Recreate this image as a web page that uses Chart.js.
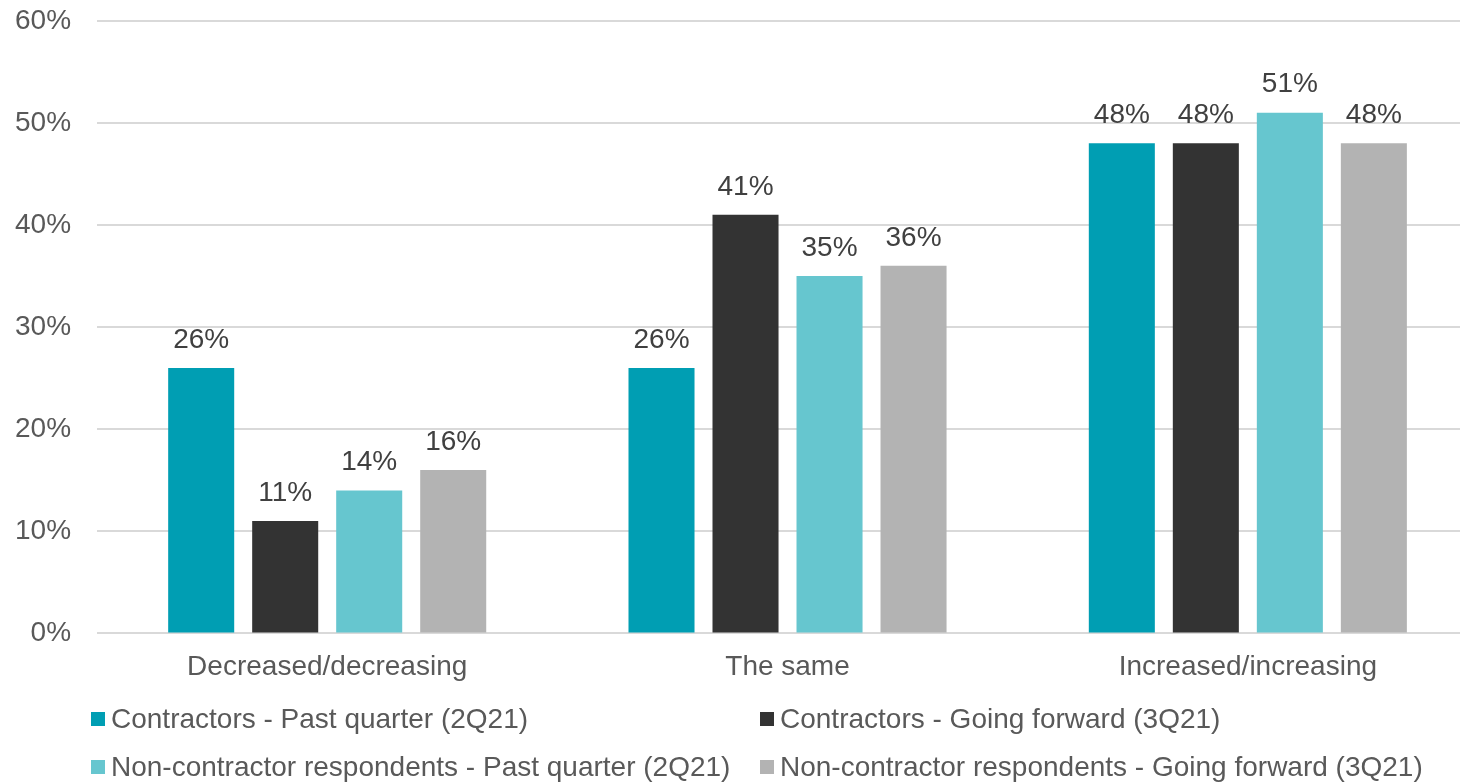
<!DOCTYPE html>
<html>
<head>
<meta charset="utf-8">
<script src="https://cdn.jsdelivr.net/npm/chart.js@4"></script>
<style>
    body { margin: 0; background: #fff; font-family: "Liberation Sans", Arial, sans-serif; overflow: hidden; }
    #wrap { position: absolute; left: 0; top: -22px; width: 1478px; height: 723px; }
    #legend { position: absolute; left: 91px; top: 700px; display: grid; grid-template-columns: 669px 700px; row-gap: 10px; }
    .item { display: flex; align-items: center; font-size: 28px; color: #595959; height: 38px; white-space: nowrap; }
    .box { width: 14px; height: 14px; margin-right: 6px; flex-shrink: 0; }
</style>
</head>
<body>
<div id="wrap"><canvas id="chart"></canvas></div>
<div id="legend"></div>
<script>
const categories = ['Decreased/decreasing', 'The same', 'Increased/increasing'];
const seriesNames = [
    'Contractors - Past quarter (2Q21)',
    'Contractors - Going forward (3Q21)',
    'Non-contractor respondents - Past quarter (2Q21)',
    'Non-contractor respondents - Going forward (3Q21)'
];
const contractorsPast = [26, 26, 48];
const contractorsForward = [11, 41, 48];
const nonContractorsPast = [14, 35, 51];
const nonContractorsForward = [16, 36, 48];
const yTicks = [0, 10, 20, 30, 40, 50, 60];
const colors = ['#009EB3', '#333333', '#66C6CF', '#B3B3B3'];

const allSeries = [contractorsPast, contractorsForward, nonContractorsPast, nonContractorsForward];
const fontFamily = '"Liberation Sans", Arial, sans-serif';

const valueLabels = {
    id: 'valueLabels',
    afterDatasetsDraw(chart) {
        const ctx = chart.ctx;
        ctx.save();
        ctx.font = '28px ' + fontFamily;
        ctx.fillStyle = '#404040';
        ctx.textAlign = 'center';
        ctx.textBaseline = 'middle';
        chart.data.datasets.forEach((ds, i) => {
            chart.getDatasetMeta(i).data.forEach((bar, j) => {
                ctx.fillText(ds.data[j] + '%', bar.x, bar.y - 28);
            });
        });
        ctx.restore();
    }
};

new Chart(document.getElementById('chart'), {
    type: 'bar',
    data: {
        labels: categories,
        datasets: allSeries.map((data, i) => ({
            label: seriesNames[i],
            data: data,
            backgroundColor: colors[i],
            categoryPercentage: 0.73,
            barPercentage: 0.786
        }))
    },
    options: {
        responsive: true,
        maintainAspectRatio: false,
        animation: false,
        layout: { padding: { left: -11, top: 0, right: 0, bottom: 0 } },
        plugins: {
            legend: { display: false },
            tooltip: { enabled: false }
        },
        scales: {
            y: {
                min: 0,
                max: 60,
                afterBuildTicks: axis => { axis.ticks = yTicks.map(v => ({ value: v })); },
                ticks: {
                    padding: 26,
                    color: '#595959',
                    font: { size: 28, family: fontFamily },
                    callback: v => v + '%'
                },
                grid: { color: '#D9D9D9', lineWidth: 2, drawTicks: false },
                border: { display: false }
            },
            x: {
                ticks: {
                    padding: 17,
                    color: '#595959',
                    font: { size: 28, family: fontFamily }
                },
                grid: { display: false, drawTicks: false },
                border: { display: false }
            }
        }
    },
    plugins: [valueLabels]
});

const legend = document.getElementById('legend');
[0, 1, 2, 3].forEach(i => {
    const el = document.createElement('div');
    el.className = 'item';
    el.innerHTML = `<span class="box" style="background:${colors[i]}"></span>${seriesNames[i]}`;
    legend.appendChild(el);
});
</script>
</body>
</html>
